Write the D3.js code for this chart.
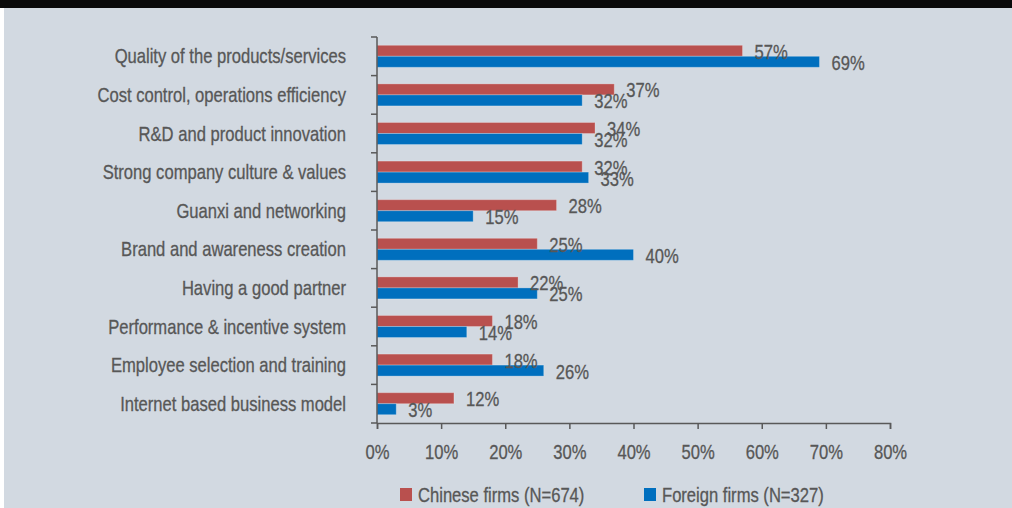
<!DOCTYPE html>
<html>
<head>
<meta charset="utf-8">
<script src="https://cdn.jsdelivr.net/npm/d3@7"></script>
<style>
  html, body { margin: 0; padding: 0; background: #ffffff; }
  svg { display: block; }
  text { font-family: "Liberation Sans", Arial, sans-serif; fill: #575757; stroke: #575757; stroke-width: 0.3px; }
</style>
</head>
<body>
<svg id="chart" width="1012" height="508"></svg>
<script>
// Success factors, share of firms naming each one
const categories = [
  "Quality of the products/services",
  "Cost control, operations efficiency",
  "R&D and product innovation",
  "Strong company culture & values",
  "Guanxi and networking",
  "Brand and awareness creation",
  "Having a good partner",
  "Performance & incentive system",
  "Employee selection and training",
  "Internet based business model"
];
const chineseFirms = [57, 37, 34, 32, 28, 25, 22, 18, 18, 12];
const foreignFirms = [69, 32, 32, 33, 15, 40, 25, 14, 26, 3];
const seriesNames = ["Chinese firms (N=674)", "Foreign firms (N=327)"];
const seriesColors = ["#b9504e", "#006fbe"];
const xTicks = [0, 10, 20, 30, 40, 50, 60, 70, 80];

const svg = d3.select("#chart");
const W = 1012, H = 508;
const FONT = 20;      // text size in px
const NARROW = 0.83;  // horizontal squeeze giving a condensed face

// panel background with dark top band
svg.append("rect").attr("x", 0).attr("y", 0).attr("width", W).attr("height", H).attr("fill", "#ffffff");
svg.append("rect").attr("x", 4).attr("y", 0).attr("width", W - 4).attr("height", H).attr("fill", "#d2d9e1");
svg.append("rect").attr("x", 0).attr("y", 0).attr("width", W).attr("height", 8).attr("fill", "#0a0a0a");

const plot = { left: 377, right: 890, top: 37, bottom: 423 };

const x = d3.scaleLinear().domain([0, 80]).range([plot.left, plot.right]);
const y = d3.scaleBand().domain(categories).range([plot.top, plot.bottom]).paddingInner(0).paddingOuter(0);
const sub = d3.scaleBand().domain([0, 1]).range([0, y.bandwidth()]).paddingInner(0).paddingOuter(0.755);

const rows = categories.map((c, i) => ({ cat: c, vals: [chineseFirms[i], foreignFirms[i]] }));

// place a condensed text at (px, py)
const at = (px, py) => `translate(${px},${py}) scale(${NARROW},1)`;

// bars
const groups = svg.append("g").selectAll("g.row").data(rows).join("g")
  .attr("class", "row")
  .attr("transform", d => `translate(0,${y(d.cat)})`);

groups.selectAll("rect").data(d => d.vals.map((v, k) => ({ v, k }))).join("rect")
  .attr("x", x(0))
  .attr("y", d => sub(d.k))
  .attr("width", d => x(d.v) - x(0))
  .attr("height", sub.bandwidth())
  .attr("fill", d => seriesColors[d.k])
  .attr("stroke", "rgba(255,255,255,0.25)")
  .attr("stroke-width", 1);

// value labels
groups.selectAll("text.val").data(d => d.vals.map((v, k) => ({ v, k }))).join("text")
  .attr("class", "val")
  .attr("transform", d => at(x(d.v) + 12, sub(d.k) + sub.bandwidth() / 2 + 1))
  .attr("dy", "0.35em")
  .attr("font-size", FONT)
  .text(d => d.v + "%");

// y axis: line, boundary ticks, category labels
const axisColor = "#595959";
const yAxis = svg.append("g");
yAxis.append("line")
  .attr("x1", x(0)).attr("x2", x(0))
  .attr("y1", plot.top).attr("y2", plot.bottom)
  .attr("stroke", axisColor).attr("stroke-width", 1.5);
const bounds = categories.map(c => y(c)).concat([plot.bottom]);
yAxis.selectAll("line.tick").data(bounds).join("line")
  .attr("class", "tick")
  .attr("x1", x(0) - 6).attr("x2", x(0))
  .attr("y1", d => d).attr("y2", d => d)
  .attr("stroke", axisColor).attr("stroke-width", 1.5);
yAxis.selectAll("text").data(categories).join("text")
  .attr("transform", d => at(346, y(d) + y.bandwidth() / 2))
  .attr("dy", "0.35em")
  .attr("text-anchor", "end")
  .attr("font-size", FONT)
  .text(d => d);

// x axis
const xAxis = svg.append("g")
  .attr("transform", `translate(0,${plot.bottom})`)
  .call(d3.axisBottom(x).tickValues(xTicks).tickSize(6).tickPadding(16).tickFormat(d => d + "%"));
xAxis.attr("font-family", null).attr("font-size", null);
xAxis.select(".domain").attr("stroke", axisColor).attr("stroke-width", 1.5);
xAxis.selectAll(".tick line").attr("stroke", axisColor).attr("stroke-width", 1.5);
xAxis.selectAll(".tick text")
  .attr("font-size", FONT)
  .attr("fill", null)
  .attr("transform", `scale(${NARROW},1)`);

// legend
const legendX = [400, 644];
const legend = svg.append("g").selectAll("g").data(seriesNames).join("g")
  .attr("transform", (d, i) => `translate(${legendX[i]},488)`);
legend.append("rect")
  .attr("width", 12).attr("height", 13)
  .attr("fill", (d, i) => seriesColors[i]);
legend.append("text")
  .attr("transform", at(18, 6.5))
  .attr("dy", "0.35em")
  .attr("font-size", FONT)
  .text(d => d);
</script>
</body>
</html>
